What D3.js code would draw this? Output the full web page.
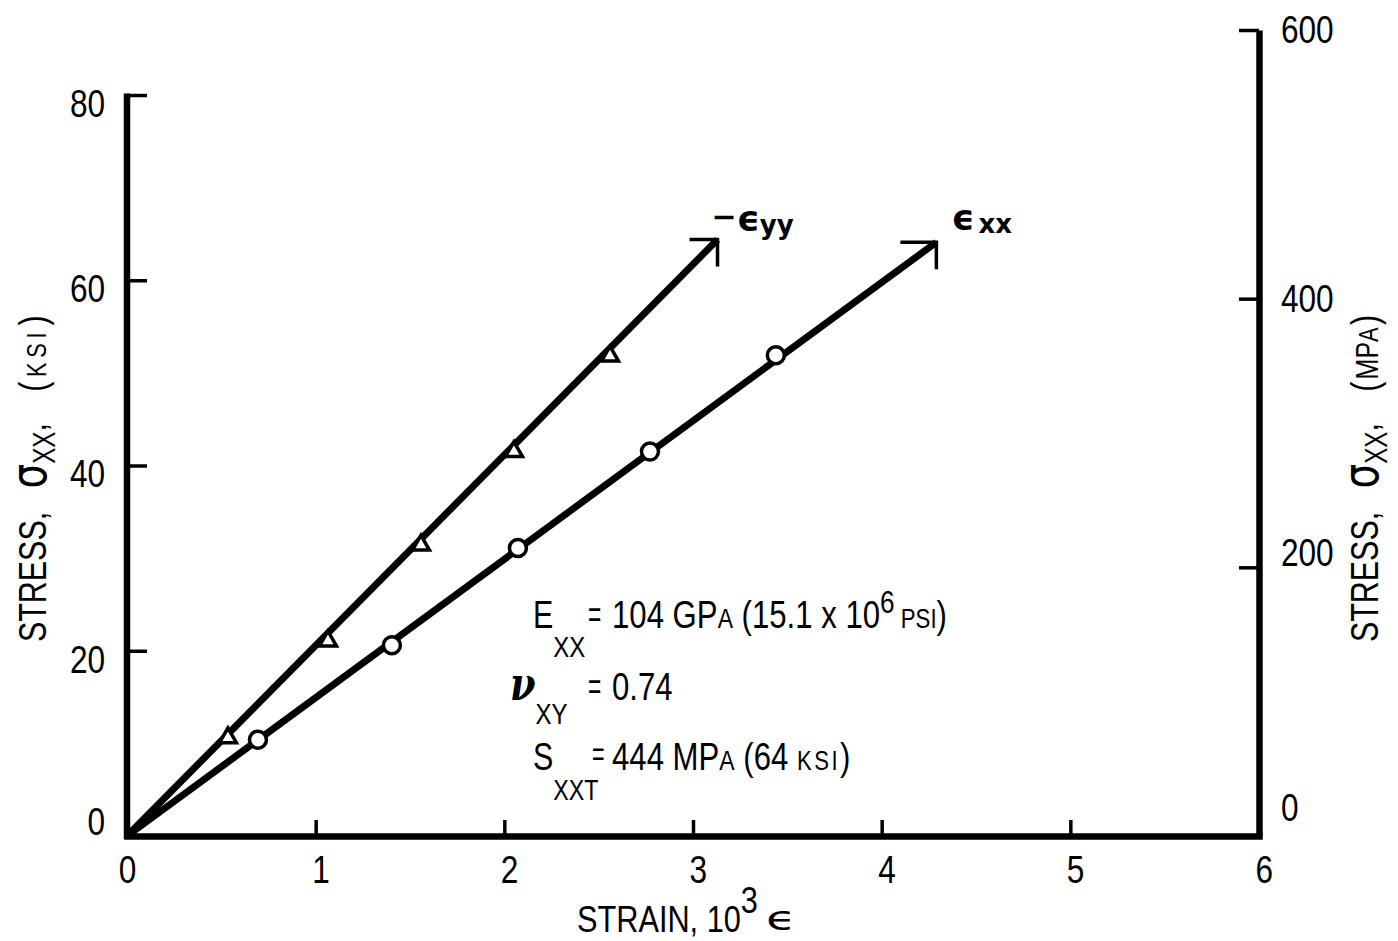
<!DOCTYPE html>
<html>
<head>
<meta charset="utf-8">
<script src="https://cdn.jsdelivr.net/npm/d3@7/dist/d3.min.js"></script>
<style>
  body { margin: 0; background: #fff; }
  text { fill: #000; }
</style>
</head>
<body>
<div id="chart"></div>
<script>
// tick values
const strainTicks = [0, 1, 2, 3, 4, 5, 6];
const ksiTicks = [0, 20, 40, 60, 80];
const mpaTicks = [0, 200, 400, 600];

// measured points (strain x 10^3, stress ksi)
const eyyStrain = [0.535, 1.065, 1.558, 2.051, 2.560];
const eyyStress = [10.6, 21.05, 31.4, 41.5, 51.8];
const exxStrain = [0.694, 1.404, 2.072, 2.772, 3.439];
const exxStress = [10.4, 20.6, 31.1, 41.5, 51.9];

// fitted lines, origin to failure
const eyyFit = [[0, 0], [3.13, 64.4]];
const exxFit = [[0, 0], [4.29, 64.1]];

const KSI_TO_MPA = 6.895;
const font = "'Liberation Sans', Arial, sans-serif";
const greek = "'DejaVu Sans', sans-serif";
const SX = 0.8;   // horizontal squeeze, the original lettering is condensed

const W = 1398, H = 941;

const svg = d3.select("#chart")
    .append("svg")
    .attr("width", W)
    .attr("height", H)
    .style("font-family", font);

const x = d3.scaleLinear().domain([0, 6]).range([127, 1259]);
const yMpa = d3.scaleLinear().domain([0, 600]).range([836, 30]);
const yKsi = d3.scaleLinear().domain([0, 600 / KSI_TO_MPA]).range([836, 30]);

function squeeze(sel, sx) {
    sel.attr("x", function () { return (+this.getAttribute("x") || 0) / sx; })
       .attr("transform", `scale(${sx},1)`);
}

// condensed text placed at (px, py)
function ctext(px, py, size, sx = SX) {
    return svg.append("text")
        .attr("transform", `translate(${px},${py}) scale(${sx},1)`)
        .style("font-size", size + "px");
}

function styleTicks(g) {
    g.selectAll(".tick line").attr("stroke", "#000").attr("stroke-width", 3.5);
    g.selectAll(".tick text")
        .style("font-size", "39px").style("font-family", font).attr("fill", "#000")
        .call(squeeze, 0.81);
}

// left axis (ksi)
const left = svg.append("g")
    .attr("transform", `translate(${x(0)},0)`)
    .call(d3.axisLeft(yKsi).tickValues(ksiTicks).tickSizeInner(-20).tickSizeOuter(0).tickPadding(22));
left.select(".domain").remove();
left.append("line")
    .attr("y1", yKsi(0) + 3).attr("y2", yKsi(80) - 1.5)
    .attr("stroke", "#000").attr("stroke-width", 6.5);
styleTicks(left);
left.selectAll(".tick text").attr("dy", d => d === 0 ? "-0.05em" : "0.55em");

// right axis (MPa)
const right = svg.append("g")
    .attr("transform", `translate(${x(6)},0)`)
    .call(d3.axisRight(yMpa).tickValues(mpaTicks).tickSizeInner(-20).tickSizeOuter(0).tickPadding(22));
right.select(".domain").attr("stroke", "#000").attr("stroke-width", 6.5);
styleTicks(right);
right.selectAll(".tick text").attr("dy", d => d === 0 ? "-0.4em" : (d === 200 ? "-0.05em" : "0.32em"));

// bottom axis (strain)
const bottom = svg.append("g")
    .attr("transform", `translate(0,${yKsi(0)})`)
    .call(d3.axisBottom(x).tickValues(strainTicks).tickFormat(d3.format("d"))
        .tickSizeInner(-16).tickSizeOuter(0).tickPadding(19));
bottom.select(".domain").attr("stroke", "#000").attr("stroke-width", 6.5).attr("stroke-linecap", "square");
styleTicks(bottom);
bottom.selectAll(".tick text").attr("dx", d => d === 0 ? "0" : "0.15em");

// fitted lines with open arrow heads
const line = d3.line().x(d => x(d[0])).y(d => yKsi(d[1]));
[[eyyFit, 28], [exxFit, 36]].forEach(([fit, headW]) => {
    svg.append("path")
        .attr("d", line(fit))
        .attr("fill", "none").attr("stroke", "#000").attr("stroke-width", 7);
    const tx = x(fit[1][0]), ty = yKsi(fit[1][1]);
    svg.append("path")
        .attr("d", `M${tx - headW},${ty}H${tx}V${ty + 27}`)
        .attr("fill", "none").attr("stroke", "#000").attr("stroke-width", 3.5);
});

// markers
svg.selectAll(".tri")
    .data(d3.zip(eyyStrain, eyyStress))
    .enter().append("path")
    .attr("class", "tri")
    .attr("transform", d => `translate(${x(d[0])},${yKsi(d[1])})`)
    .attr("d", d3.symbol().type(d3.symbolTriangle).size(125))
    .attr("fill", "#fff").attr("stroke", "#000").attr("stroke-width", 3.5);

svg.selectAll(".circ")
    .data(d3.zip(exxStrain, exxStress))
    .enter().append("circle")
    .attr("class", "circ")
    .attr("cx", d => x(d[0])).attr("cy", d => yKsi(d[1]))
    .attr("r", 8.5)
    .attr("fill", "#fff").attr("stroke", "#000").attr("stroke-width", 3.5);

// curve labels
const eyyEnd = eyyFit[1], exxEnd = exxFit[1];
const lblY = svg.append("text")
    .attr("x", x(eyyEnd[0]) - 6).attr("y", yKsi(eyyEnd[1]) - 9)
    .style("font-family", greek).style("font-weight", "bold");
lblY.append("tspan").style("font-size", "30px").attr("dy", -4).text("−");
lblY.append("tspan").style("font-size", "36px").attr("dy", 4).text("ϵ");
lblY.append("tspan").style("font-size", "26px").attr("dy", 3).text("yy");

const lblX = svg.append("text")
    .attr("x", x(exxEnd[0]) + 15).attr("y", yKsi(exxEnd[1]) - 12)
    .style("font-family", greek).style("font-weight", "bold");
lblX.append("tspan").style("font-size", "36px").text("ϵ");
lblX.append("tspan").style("font-size", "26px").attr("dx", 4).attr("dy", 3).text("xx");

// axis titles, read bottom to top
function stressTitle(tx, unitBig, unitSmall) {
    const t = svg.append("text")
        .attr("transform", `translate(${tx},642) rotate(-90) scale(0.78,1)`)
        .style("font-size", "39px");
    t.append("tspan").text("STRESS,");
    t.append("tspan").attr("dx", 30).style("font-family", greek).style("font-size", "50px").text("σ");
    t.append("tspan").attr("dy", 9).style("font-size", "31px").text("XX");
    t.append("tspan").attr("dy", -9).text(",");
    t.append("tspan").attr("dx", 40).text("(");
    if (unitBig) t.append("tspan").attr("dx", 3).style("font-size", "32px").text(unitBig);
    t.append("tspan").attr("dx", unitBig ? 0 : 6).style("font-size", "28px").style("letter-spacing", unitBig ? "0px" : "6px").text(unitSmall);
    t.append("tspan").attr("dx", 3).text(")");
}
stressTitle(46, "", "KSI");
stressTitle(1378, "MP", "A");

const strain = ctext(577, 932, 37, 0.83);
strain.append("tspan").text("STRAIN, 10");
strain.append("tspan").attr("dy", -19).style("font-size", "37px").text("3");
ctext(766, 930, 34, 1.45).style("font-family", greek).text("ϵ");

// property block
const r1a = ctext(533, 628, 38);
r1a.append("tspan").text("E");
r1a.append("tspan").attr("dy", 29).style("font-size", "30px").text("XX");
ctext(588, 628, 38, 0.6).text("=");
const r1 = ctext(612, 628, 38, 0.82);
r1.append("tspan").text("104 GP");
r1.append("tspan").style("font-size", "28px").text("A");
r1.append("tspan").text(" (15.1 x 10");
r1.append("tspan").attr("dy", -15).style("font-size", "32px").text("6");
r1.append("tspan").attr("dy", 15).style("font-size", "27px").text(" PSI");
r1.append("tspan").text(")");

const r2a = ctext(510, 700, 38);
r2a.append("tspan").style("font-family", "'DejaVu Serif', serif").style("font-style", "italic")
    .style("font-weight", "bold").style("font-size", "46px").text("ν");
r2a.append("tspan").attr("dy", 24).style("font-size", "30px").text("XY");
ctext(588, 700, 38, 0.6).text("=");
ctext(612, 700, 38, 0.82).text("0.74");

const r3a = ctext(533, 770, 38);
r3a.append("tspan").text("S");
r3a.append("tspan").attr("dy", 30).style("font-size", "29px").text("XXT");
ctext(592, 766, 36, 0.6).text("=");
const r3 = ctext(612, 770, 38, 0.82);
r3.append("tspan").text("444 MP");
r3.append("tspan").style("font-size", "28px").text("A");
r3.append("tspan").text(" (64 ");
r3.append("tspan").style("font-size", "27px").style("letter-spacing", "3px").text("KSI");
r3.append("tspan").text(")");
</script>
</body>
</html>
